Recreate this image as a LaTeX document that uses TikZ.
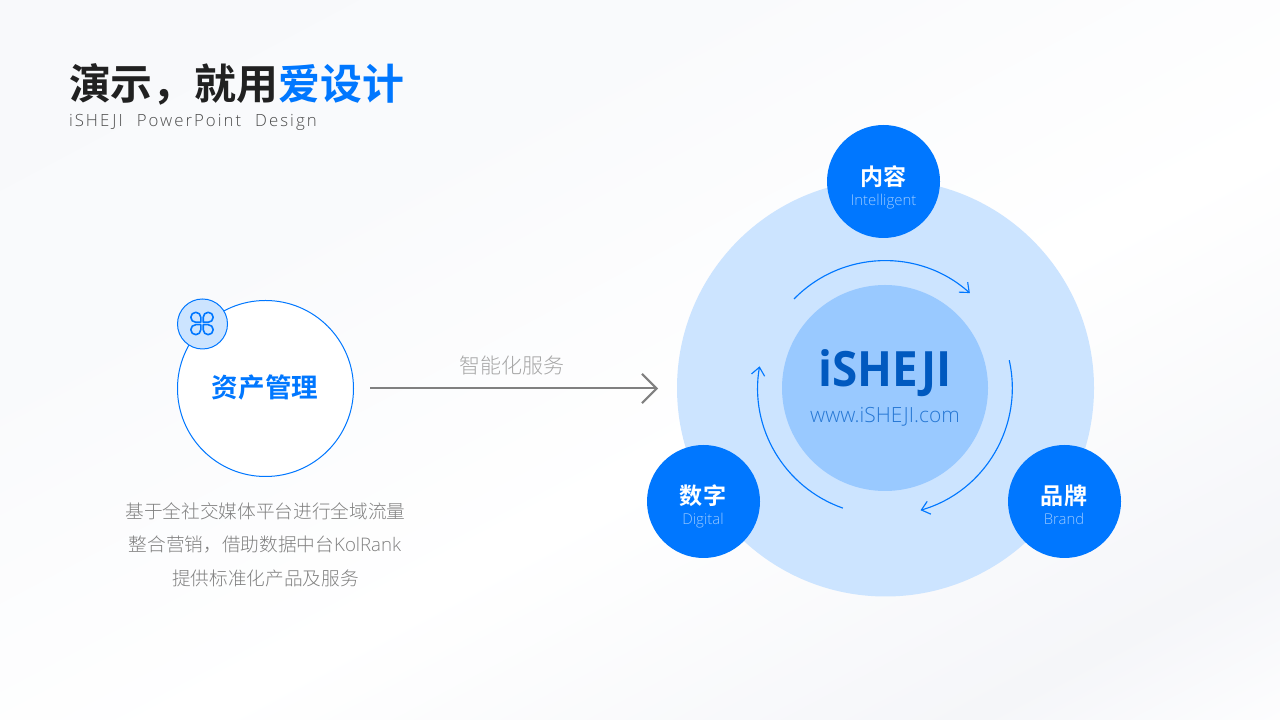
\documentclass[tikz,border=0pt]{standalone}
\usepackage{fontspec}
\usetikzlibrary{arrows.meta}
\setmainfont{Open Sans}
\newfontfamily\cjkbold{Noto Sans CJK SC Bold}
\newfontfamily\cjklight{Noto Sans CJK SC Light}
\newfontfamily\latlight{Open Sans Light}
\newfontfamily\latbold[FakeStretch=0.94]{Open Sans Bold}
\newfontfamily\sublight[LetterSpace=12,WordSpace=2.2]{Open Sans Light}
\definecolor{brand}{HTML}{0077FF}
\definecolor{pale}{HTML}{CCE4FF}
\definecolor{mid}{HTML}{99C9FF}
\definecolor{deep}{HTML}{0059BF}
\definecolor{bga}{HTML}{F8F9FB}
\definecolor{bgd}{HTML}{F9FAFC}
\definecolor{bgb}{HTML}{FDFDFE}
\definecolor{bgc}{HTML}{F5F6F9}
\pgfdeclarehorizontalshading{bgshade}{100bp}{
 color(0bp)=(bga); color(16bp)=(bga); color(34.6bp)=(bgd); color(56bp)=(white);
 color(76bp)=(bgc); color(84bp)=(bgb); color(100bp)=(bgb)}
\tikzset{
 px/.style={x=.75pt,y=.75pt},
 disc/.style={circle,inner sep=0pt,outer sep=0pt,minimum size=#1*.75pt},
 flow/.style={draw=brand,line width=.85pt,-{Straight Barb[length=6pt,width=10pt,line width=.85pt]}},
 tnode/.style={inner sep=0pt,outer sep=0pt,anchor=center},
 bnode/.style={inner sep=0pt,outer sep=0pt,anchor=base},
 petal/.style={draw=brand,line width=1.2pt,line join=round},
}
\begin{document}
\begin{tikzpicture}[px]
\useasboundingbox (0,0) rectangle (1280,720);
\shade[shading=bgshade,shading angle=-62] (0,0) rectangle (1280,720);
% right diagram
\node[disc=417,fill=pale] (outer) at (885.5,332) {};
\node[disc=206,fill=mid] (core) at (885,332) {};
\node[bnode,font=\latbold\fontsize{36.5}{36.5}\selectfont,text=deep] (logo) at (885,333) {iSHEJI};
\node[tnode,font=\latlight\fontsize{15.7}{15.7}\selectfont,text=brand!80!black!85!white] (url) at (885,303.5) {www.iSHEJI.com};
\coordinate (arcc) at (885,332);
\draw[flow] (arcc) ++(135.6:127.3) arc (135.6:48.2:127.3);
\draw[flow] (arcc) ++(12.6:127.3) arc (12.6:-73.8:127.3);
\draw[flow] (arcc) ++(-109.3:127.3) arc (-109.3:-189.8:127.3);
\node[disc=113,fill=brand] (top) at (883.5,538.5) {};
\node[disc=113,fill=brand] (left) at (703.5,218.5) {};
\node[disc=113,fill=brand] (right) at (1064.5,218.5) {};
\node[tnode,font=\cjkbold\fontsize{17.3}{17.3}\selectfont,text=white] (t1) at (883.5,543.5) {内容};
\node[bnode,font=\latlight\fontsize{11.2}{11.2}\selectfont,text=mid] (t2) at (883.5,514) {Intelligent};
\node[tnode,font=\cjkbold\fontsize{17.3}{17.3}\selectfont,text=white] (l1) at (703,224.5) {数字};
\node[bnode,font=\latlight\fontsize{11.2}{11.2}\selectfont,text=mid] (l2) at (703,195) {Digital};
\node[tnode,font=\cjkbold\fontsize{17.3}{17.3}\selectfont,text=white] (r1) at (1064,224.5) {品牌};
\node[bnode,font=\latlight\fontsize{11.2}{11.2}\selectfont,text=mid] (r2) at (1064,195) {Brand};
% left diagram
\node[disc=176,draw=brand,fill=white,line width=.75pt] (asset) at (265.5,331.5) {};
\node[disc=50,draw=brand,fill=pale,line width=.75pt] (badge) at (202.5,396) {};
\node[tnode,font=\cjkbold\fontsize{19.9}{19.9}\selectfont,text=brand] (assett) at (265,333) {资产管理};
\foreach \sx/\sy in {1/1,-1/1,1/-1,-1/-1}{
 \begin{scope}[shift={(202,396.5)},xscale=\sx,yscale=\sy]
 \draw[petal] (1.2,1.2) -- (6.2,1.2) arc (-90:180:5) -- cycle;
 \end{scope}
}
\node[tnode,font=\cjklight\fontsize{14}{14}\selectfont,text=black!50] (d1) at (265.5,209) {基于全社交媒体平台进行全域流量};
\node[tnode,font=\cjklight\fontsize{14}{14}\selectfont,text=black!50] (d2) at (265,175) {整合营销，借助数据中台{\latlight KolRank}};
\node[tnode,font=\cjklight\fontsize{14}{14}\selectfont,text=black!50] (d3) at (265.5,142) {提供标准化产品及服务};
\coordinate (tip) at (658,331.5);
\draw[draw=black!50,line width=1.5pt,shorten <=12.4pt,-{Straight Barb[length=11pt,width=22pt,line width=1.5pt]}] (asset) -- (tip);
\node[tnode,font=\cjklight\fontsize{15.75}{15.75}\selectfont,text=black!35] (lab) at (511.5,354) {智能化服务};
% title
\node[inner sep=0pt,outer sep=0pt,anchor=west,font=\cjkbold\fontsize{31.4}{31.4}\selectfont,text=black!87] (title) at (69,636) {演示，就用\textcolor{brand}{爱设计}};
\node[inner sep=0pt,outer sep=0pt,anchor=west,font=\sublight\fontsize{12.6}{12.6}\selectfont,text=black!70] (sub) at (69,598) {iSHEJI PowerPoint Design};
\end{tikzpicture}
\end{document}
